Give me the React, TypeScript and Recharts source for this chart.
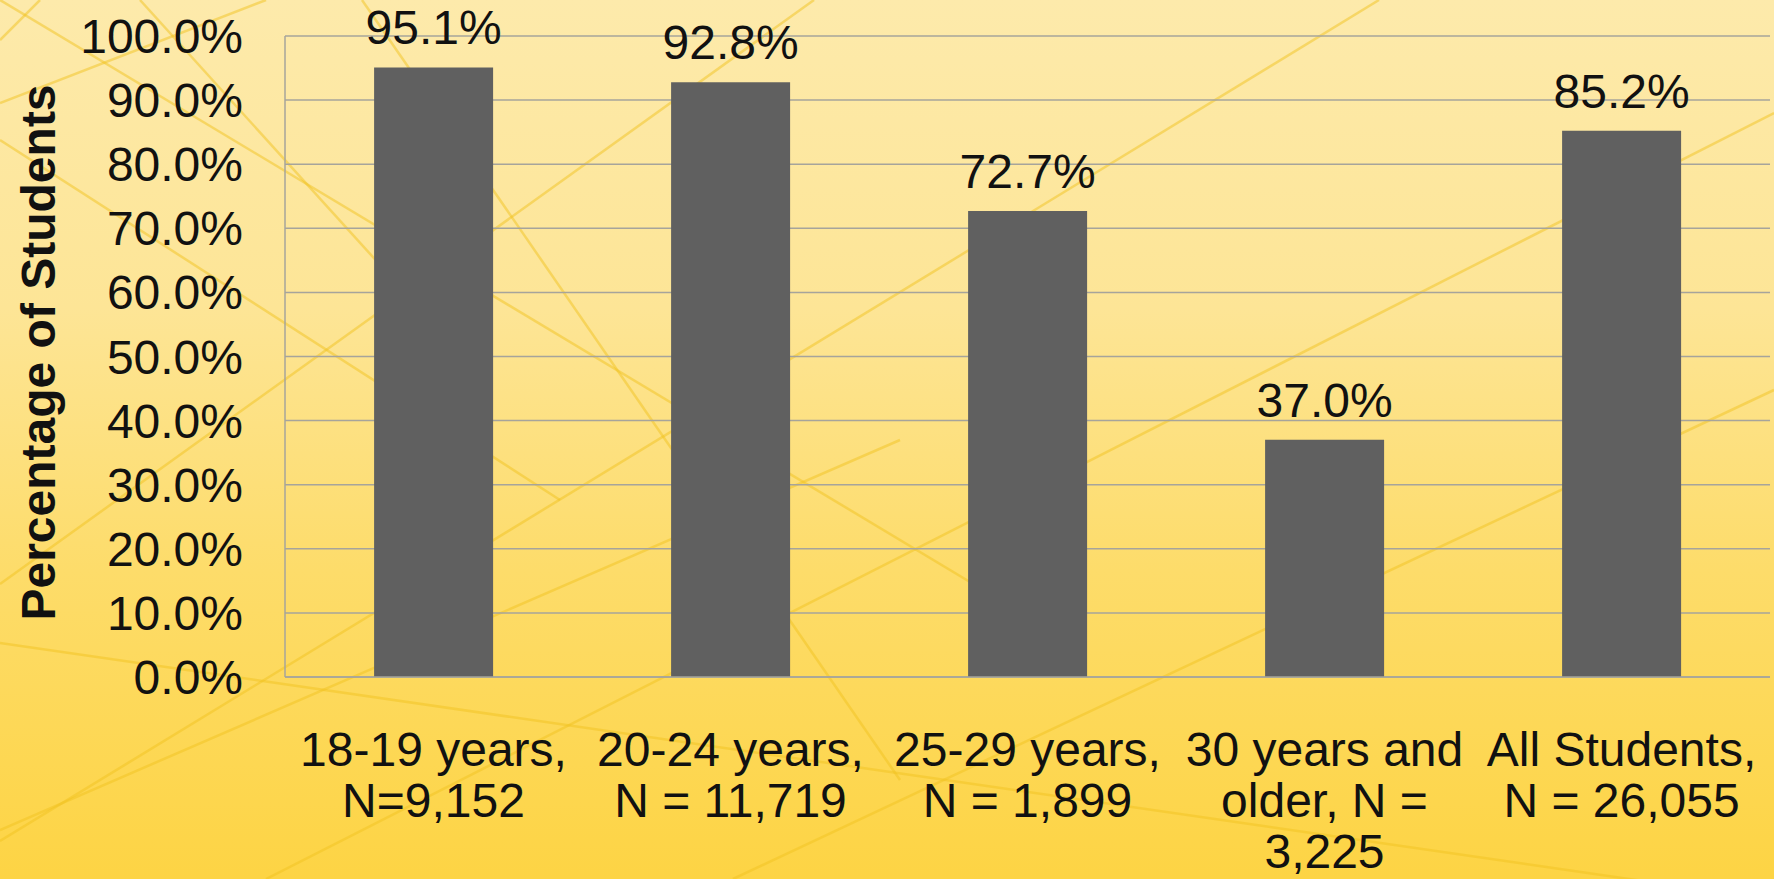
import { BarChart, Bar, XAxis, YAxis, CartesianGrid, LabelList } from "recharts";

// Share of students by age group
const categories = [
  "18-19 years, N=9,152",
  "20-24 years, N = 11,719",
  "25-29 years, N = 1,899",
  "30 years and older, N = 3,225",
  "All Students, N = 26,055",
];
const categoryLines = [
  ["18-19 years,", "N=9,152"],
  ["20-24 years,", "N = 11,719"],
  ["25-29 years,", "N = 1,899"],
  ["30 years and", "older, N =", "3,225"],
  ["All Students,", "N = 26,055"],
];
const percentages = [95.1, 92.8, 72.7, 37.0, 85.2];
const yTicks = [0, 10, 20, 30, 40, 50, 60, 70, 80, 90, 100];

const chartData = categories.map((name, i) => ({
  name,
  value: percentages[i],
  index: i,
}));

const FONT = "'Liberation Sans', Arial, sans-serif";

// faint diagonal lines of the slide background (decoration only)
const bgLines = [
  [0, 0, 1000, 600],
  [266, 0, 0, 103],
  [814, 0, 0, 584],
  [1379, 0, 0, 841],
  [1774, 113, 266, 879],
  [1774, 390, 733, 879],
  [0, 643, 1774, 900],
  [362, 0, 900, 780],
  [0, 140, 560, 500],
  [140, 0, 430, 320],
  [0, 830, 900, 440],
  [40, 0, 0, 40],
];

function XTick(props: any) {
  const { x, y, payload } = props;
  const lines = categoryLines[payload.index] || [payload.value];
  return (
    <text
      x={x}
      y={y + 89}
      textAnchor="middle"
      fontSize={48}
      fontFamily={FONT}
      fill="#111"
    >
      {lines.map((l: string, i: number) => (
        <tspan key={i} x={x} dy={i === 0 ? 0 : 51}>
          {l}
        </tspan>
      ))}
    </text>
  );
}

export default function App() {
  return (
    <div
      style={{
        position: "absolute",
        left: 0,
        top: 0,
        width: 1774,
        height: 879,
        overflow: "hidden",
        background:
          "linear-gradient(180deg, #fdeaab 0%, #fde596 35%, #fddc6a 65%, #fdd444 100%)",
      }}
    >
      <svg
        width={1774}
        height={879}
        style={{ position: "absolute", left: 0, top: 0 }}
      >
        {bgLines.map((l, i) => (
          <line
            key={i}
            x1={l[0]}
            y1={l[1]}
            x2={l[2]}
            y2={l[3]}
            stroke="#f2c422"
            strokeWidth={2.5}
            opacity={0.5}
          />
        ))}
      </svg>
      <div style={{ position: "absolute", left: 0, top: 0 }}>
        <BarChart
          width={1774}
          height={879}
          data={chartData}
          margin={{ top: 36, right: 4, bottom: 0, left: 0 }}
          barCategoryGap="30%"
        >
          <CartesianGrid vertical={false} stroke="#a6a49b" strokeWidth={1.5} />
          <XAxis
            dataKey="name"
            height={202}
            interval={0}
            tickLine={false}
            tickSize={0}
            tickMargin={0}
            axisLine={{ stroke: "#a6a49b", strokeWidth: 1.5 }}
            tick={<XTick />}
          />
          <YAxis
            width={285}
            domain={[0, 100]}
            ticks={yTicks}
            interval={0}
            tickLine={false}
            tickSize={0}
            tickMargin={42}
            axisLine={{ stroke: "#a6a49b", strokeWidth: 1.5 }}
            tickFormatter={(v: number) => `${v.toFixed(1)}%`}
            tick={{ fontSize: 48, fontFamily: FONT, fill: "#111" }}
            label={{
              content: (p: any) => {
                const vb = p.viewBox || { y: 36, height: 641 };
                const cy = vb.y + vb.height / 2 - 4;
                return (
                  <text
                    transform={`translate(38, ${cy}) rotate(-90)`}
                    textAnchor="middle"
                    dominantBaseline="central"
                    fontSize={48}
                    fontWeight="bold"
                    fontFamily={FONT}
                    fill="#111"
                  >
                    Percentage of Students
                  </text>
                );
              },
            }}
          />
          <Bar dataKey="value" fill="#606060" isAnimationActive={false}>
            <LabelList
              dataKey="value"
              position="top"
              offset={23}
              formatter={(v: any) => `${Number(v).toFixed(1)}%`}
              style={{ fontSize: 48, fontFamily: FONT, fill: "#111" }}
            />
          </Bar>
        </BarChart>
      </div>
    </div>
  );
}
